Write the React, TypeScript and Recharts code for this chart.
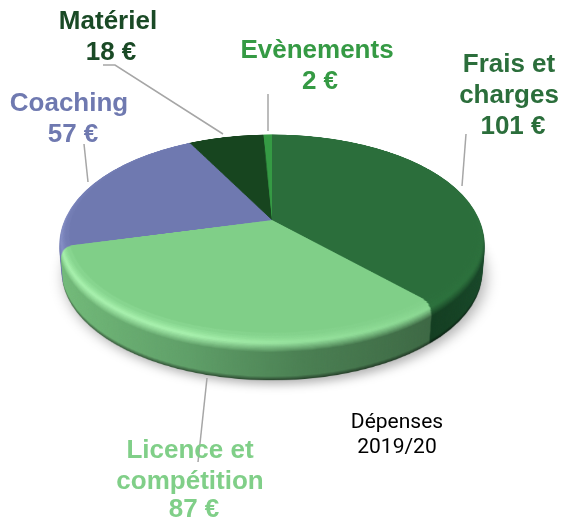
import { PieChart, Pie, Cell } from 'recharts'

const categories = ['Frais et charges', 'Licence et compétition', 'Coaching', 'Matériel', 'Evènements']
const values = [101, 87, 57, 18, 2]
const topColors = ['#2b6e3b', '#80cf88', '#6f79b0', '#17451f', '#359a44']
const textColors = ['#2b6e3b', '#80cf88', '#6f79b0', '#1a4a26', '#359a44']
const rimColors = ['#2f7a42', '#a8f2ae', '#868fc6', '#1c5026', '#3dab4d']
// wall shading, left to right across the pie
const wallColors = [
  ['#0c2c13', '#0c2c13', '#0c2c13', '#18492a'],
  ['#74bd7b', '#5f9f68', '#4a7f52', '#34583a'],
  ['#6b75ad', '#6b75ad', '#6b75ad', '#6b75ad'],
  ['#123a1a', '#123a1a', '#123a1a', '#123a1a'],
  ['#2b7a38', '#2b7a38', '#2b7a38', '#2b7a38'],
]
// how much the highlight fades towards the right of the pie
const rimFade = [0, 0, 0.45, 0.95]

const data = categories.map((name, i) => ({ name, value: values[i] }))

const SIZE = 460
const RADIUS = 211
const DEPTH = 43
const BEVEL = 14
const TILT = 'perspective(1257px) rotateX(61.2deg)'

function mix(a: string, b: string, t: number) {
  const pa = [1, 3, 5].map((i) => parseInt(a.slice(i, i + 2), 16))
  const pb = [1, 3, 5].map((i) => parseInt(b.slice(i, i + 2), 16))
  const out = pa.map((v, i) => Math.round(v + (pb[i] - v) * t))
  return '#' + out.map((v) => v.toString(16).padStart(2, '0')).join('')
}

// one slice of the extruded pie at depth d
function WallLayer({ d }: { d: number }) {
  const inBevel = d < BEVEL
  const u = d / BEVEL
  const inset = inBevel ? BEVEL * 0.7 * (1 - Math.sqrt(1 - (1 - u) * (1 - u))) : 0
  const shade = d > DEPTH - 4 ? ((d - (DEPTH - 4)) / 4) * 0.45 : 0

  const stopColor = (slice: number, stop: number) => {
    const wall = wallColors[slice][stop]
    if (!inBevel) return mix(wall, '#000000', shade)
    // top colour -> highlight -> wall colour
    const rim = mix(rimColors[slice], topColors[slice], rimFade[stop])
    return u < 0.4 ? mix(topColors[slice], rim, u / 0.4) : mix(rim, wall, (u - 0.4) / 0.6)
  }

  return (
    <div style={{ position: 'absolute', left: 42, top: -10, width: SIZE, height: SIZE, transform: `${TILT} translateZ(${-d}px)` }}>
      <PieChart width={SIZE} height={SIZE} margin={{ top: 0, right: 0, bottom: 0, left: 0 }}>
        <defs>
          {categories.map((_, i) => (
            <linearGradient key={i} id={`wall-${d}-${i}`} gradientUnits="userSpaceOnUse" x1={0} y1={0} x2={SIZE} y2={0}>
              {[0.04, 0.34, 0.56, 0.98].map((offset, s) => (
                <stop key={s} offset={offset} stopColor={stopColor(i, s)} />
              ))}
            </linearGradient>
          ))}
        </defs>
        <Pie
          data={data}
          dataKey="value"
          cx={SIZE / 2}
          cy={SIZE / 2}
          innerRadius={0}
          outerRadius={RADIUS - inset}
          startAngle={90}
          endAngle={-270}
          stroke="none"
          isAnimationActive={false}
        >
          {categories.map((_, i) => (
            <Cell key={i} fill={`url(#wall-${d}-${i})`} />
          ))}
        </Pie>
      </PieChart>
    </div>
  )
}

const depths: number[] = []
for (let d = DEPTH; d >= 1; d--) depths.push(d)

const labelLines = [['Frais et', 'charges'], ['Licence et', 'compétition'], ['Coaching'], ['Matériel'], ['Evènements']]
const labelSpots = [
  { x: 509, y: 72, vx: 513, vy: 134 },
  { x: 190, y: 458, vx: 194, vy: 517 },
  { x: 69, y: 111, vx: 73, vy: 142 },
  { x: 108, y: 29, vx: 111, vy: 60 },
  { x: 317, y: 58, vx: 320, vy: 89 },
]
const leaders = [
  '466,134 462,186',
  '207,378 198,462',
  '84,144 88,182',
  '103,65 115,65 223,134',
  '268,94 268,131',
]
const LINE = 31

export default function App() {
  return (
    <div style={{ position: 'absolute', left: 0, top: 0, width: 564, height: 523, overflow: 'hidden', background: '#fff' }}>
      {/* soft shadow under the pie */}
      <div
        style={{
          position: 'absolute',
          left: 42,
          top: -10,
          width: SIZE,
          height: SIZE,
          transform: `${TILT} translate3d(3px, 6px, ${-DEPTH}px)`,
        }}
      >
        <div
          style={{
            position: 'absolute',
            inset: SIZE / 2 - RADIUS,
            borderRadius: '50%',
            background: 'rgba(0,0,0,0.3)',
            filter: 'blur(7px)',
          }}
        />
      </div>

      {depths.map((d) => (
        <WallLayer key={d} d={d} />
      ))}

      {/* top face */}
      <div style={{ position: 'absolute', left: 42, top: -10, width: SIZE, height: SIZE, transform: TILT }}>
        <PieChart width={SIZE} height={SIZE} margin={{ top: 0, right: 0, bottom: 0, left: 0 }}>
          <Pie
            data={data}
            dataKey="value"
            cx={SIZE / 2}
            cy={SIZE / 2}
            innerRadius={0}
            outerRadius={RADIUS - BEVEL * 0.7}
            startAngle={90}
            endAngle={-270}
            stroke="none"
            isAnimationActive={false}
          >
            {categories.map((_, i) => (
              <Cell key={i} fill={topColors[i]} />
            ))}
          </Pie>
        </PieChart>
      </div>

      {/* labels and leader lines */}
      <svg width={564} height={523} style={{ position: 'absolute', left: 0, top: 0 }}>
        {leaders.map((points, i) => (
          <polyline key={i} points={points} fill="none" stroke="#a6a6a6" strokeWidth={1.5} />
        ))}
        {categories.map((name, i) => {
          const lines = labelLines[i]
          const spot = labelSpots[i]
          return (
            <g key={name} fill={textColors[i]} fontFamily="Liberation Sans" fontWeight={700} fontSize={26} textAnchor="middle">
              {lines.map((line, j) => (
                <text key={j} x={spot.x} y={spot.y + j * LINE}>
                  {line}
                </text>
              ))}
              <text x={spot.vx} y={spot.vy}>
                {values[i]} €
              </text>
            </g>
          )
        })}
        <g fill="#000" fontFamily="Roboto" fontSize={21} textAnchor="middle">
          <text x={397} y={428}>Dépenses</text>
          <text x={397} y={453}>2019/20</text>
        </g>
      </svg>
    </div>
  )
}
